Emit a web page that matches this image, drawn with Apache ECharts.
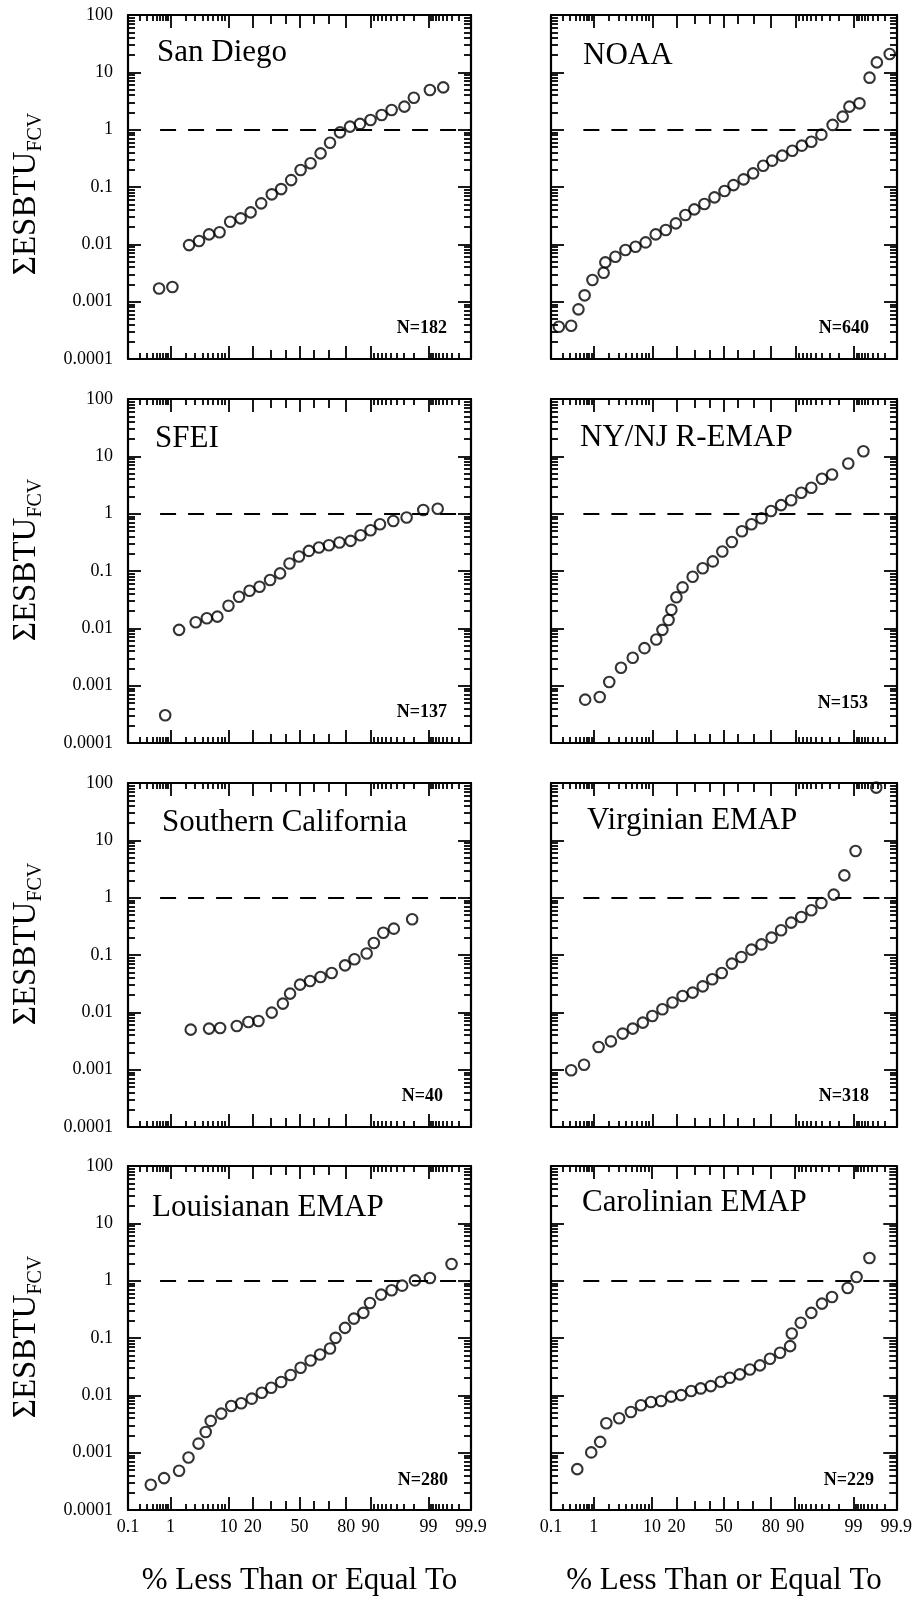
<!DOCTYPE html>
<html>
<head>
<meta charset="utf-8">
<script src="https://cdn.jsdelivr.net/npm/echarts@6/dist/echarts.min.js"></script>
<style>
html,body{margin:0;padding:0;background:#fff;}
#chart{width:915px;height:1600px;}
</style>
</head>
<body>
<div id="chart"></div>
<script>
// x values are normal scores (probit of the cumulative fraction "% Less Than or Equal To")
const sanDiegoScore = [-2.53,-2.29,-1.99,-1.81,-1.63,-1.44,-1.25,-1.06,-0.88,-0.69,-0.50,-0.33,-0.15,0.02,0.20,0.38,0.55,0.73,0.91,1.09,1.28,1.48,1.66,1.89,2.06,2.35,2.59];
const sanDiegoValue = [0.0017,0.0018,0.0097,0.0114,0.0149,0.0162,0.0248,0.0284,0.0361,0.0519,0.0745,0.092,0.132,0.198,0.259,0.386,0.593,0.897,1.13,1.26,1.47,1.80,2.20,2.52,3.61,4.92,5.47];

const noaaScore = [-2.95,-2.73,-2.60,-2.49,-2.35,-2.15,-2.12,-1.94,-1.76,-1.58,-1.40,-1.22,-1.04,-0.86,-0.69,-0.53,-0.35,-0.17,0.01,0.17,0.35,0.52,0.70,0.86,1.04,1.22,1.39,1.56,1.74,1.94,2.12,2.24,2.42,2.60,2.73,2.96];
const noaaValue = [0.000366,0.000381,0.000735,0.00129,0.00239,0.0032,0.00485,0.00608,0.00796,0.0091,0.0108,0.0149,0.0178,0.0232,0.0324,0.0407,0.0505,0.066,0.0851,0.108,0.136,0.173,0.235,0.288,0.352,0.43,0.526,0.617,0.818,1.21,1.69,2.52,2.88,8.07,14.9,20.9];

const sfeiScore = [-2.42,-2.17,-1.87,-1.67,-1.48,-1.28,-1.09,-0.90,-0.72,-0.53,-0.35,-0.18,-0.01,0.17,0.35,0.53,0.72,0.92,1.10,1.28,1.45,1.69,1.93,2.23,2.49];
const sfeiValue = [0.000304,0.0094,0.0128,0.015,0.016,0.0248,0.0356,0.0453,0.0531,0.0695,0.0908,0.1355,0.1795,0.224,0.257,0.282,0.314,0.335,0.421,0.514,0.653,0.746,0.855,1.16,1.22];

const nynjScore = [-2.48,-2.22,-2.05,-1.84,-1.63,-1.42,-1.21,-1.10,-0.99,-0.94,-0.85,-0.74,-0.56,-0.38,-0.20,-0.03,0.14,0.32,0.49,0.67,0.84,1.02,1.20,1.38,1.56,1.75,1.93,2.22,2.49];
const nynjValue = [0.00057,0.000635,0.00116,0.00205,0.00306,0.00451,0.00637,0.0094,0.014,0.0211,0.0348,0.0519,0.0793,0.112,0.147,0.219,0.321,0.493,0.653,0.83,1.11,1.41,1.71,2.32,2.84,4.06,4.83,7.5,12.3];

const soCalScore = [-1.96,-1.63,-1.43,-1.13,-0.92,-0.74,-0.50,-0.30,-0.17,0.01,0.19,0.38,0.58,0.82,0.99,1.21,1.34,1.51,1.70,2.03];
const soCalValue = [0.00499,0.0052,0.00533,0.00577,0.00678,0.00706,0.00989,0.0142,0.0212,0.0304,0.0352,0.0413,0.0485,0.066,0.0841,0.106,0.162,0.245,0.288,0.42];

const virginianScore = [-2.73,-2.50,-2.24,-2.02,-1.81,-1.63,-1.45,-1.28,-1.10,-0.92,-0.74,-0.56,-0.38,-0.21,-0.04,0.14,0.31,0.49,0.67,0.85,1.02,1.20,1.38,1.56,1.74,1.96,2.15,2.35,2.72];
const virginianValue = [0.000975,0.00122,0.00248,0.00312,0.00426,0.0052,0.00662,0.00863,0.0113,0.0148,0.0193,0.0221,0.0284,0.0377,0.0485,0.0708,0.0923,0.124,0.153,0.201,0.27,0.367,0.46,0.602,0.807,1.13,2.45,6.52,83.2];

const louisianScore = [-2.68,-2.44,-2.17,-2.00,-1.82,-1.69,-1.60,-1.41,-1.23,-1.05,-0.86,-0.68,-0.51,-0.33,-0.16,0.02,0.20,0.37,0.55,0.65,0.82,0.98,1.15,1.27,1.47,1.66,1.85,2.08,2.35,2.74];
const louisianValue = [0.000275,0.00036,0.000483,0.000824,0.00144,0.0023,0.00358,0.0048,0.00652,0.00726,0.00875,0.0111,0.0136,0.0171,0.0226,0.0303,0.0406,0.0516,0.0656,0.1007,0.150,0.218,0.274,0.409,0.571,0.679,0.818,1.01,1.11,1.95];

const carolinianScore = [-2.62,-2.37,-2.21,-2.10,-1.87,-1.66,-1.48,-1.30,-1.12,-0.94,-0.76,-0.58,-0.41,-0.23,-0.05,0.11,0.29,0.47,0.65,0.83,1.01,1.19,1.22,1.38,1.57,1.76,1.94,2.22,2.38,2.61];
const carolinianValue = [0.000516,0.00101,0.00154,0.00326,0.00398,0.00513,0.0067,0.00766,0.00796,0.00949,0.0101,0.0119,0.0132,0.0145,0.0173,0.0203,0.0232,0.0283,0.0333,0.0435,0.0552,0.0721,0.12,0.184,0.274,0.398,0.52,0.746,1.16,2.48];

const panelNames = ['San Diego','NOAA','SFEI','NY/NJ R-EMAP','Southern California','Virginian EMAP','Louisianan EMAP','Carolinian EMAP'];
const panelCounts = ['N=182','N=640','N=137','N=153','N=40','N=318','N=280','N=229'];
const panelScores = [sanDiegoScore,noaaScore,sfeiScore,nynjScore,soCalScore,virginianScore,louisianScore,carolinianScore];
const panelValues = [sanDiegoValue,noaaValue,sfeiValue,nynjValue,soCalValue,virginianValue,louisianValue,carolinianValue];

// tick labels
const xLabelPercents = [0.1,1,10,20,50,80,90,99,99.9];
const xMajorPercents = [1,10,20,50,80,90,99];
const xMediumPercents = [30,40,60,70];
const xShortPercents = [0.2,0.3,0.4,0.5,0.6,0.7,0.8,0.9,2,3,4,5,6,7,8,9,91,92,93,94,95,96,97,98,99.1,99.2,99.3,99.4,99.5,99.6,99.7,99.8];
const yLabelValues = [0.0001,0.001,0.01,0.1,1,10,100];
const yLabelTexts = ['0.0001','0.001','0.01','0.1','1','10','100'];
const refValue = 1;          // dashed reference line
const refStartPercent = 0.6;
const xLabelTitle = '% Less Than or Equal To';

// inverse normal CDF (Acklam)
function probit(p){
  const a=[-3.969683028665376e+01,2.209460984245205e+02,-2.759285104469687e+02,1.383577518672690e+02,-3.066479806614716e+01,2.506628277459239e+00];
  const b=[-5.447609879822406e+01,1.615858368580409e+02,-1.556989798598866e+02,6.680131188771972e+01,-1.328068155833036e+01];
  const c=[-7.784894002430293e-03,-3.223964580411365e-01,-2.400758277161838e+00,-2.549732539343734e+00,4.374664141464968e+00,2.938163982698783e+00];
  const d=[7.784695709041462e-03,3.224671290700398e-01,2.445134137142996e+00,3.754408661907416e+00];
  const plow=0.02425, phigh=1-plow; let q,r;
  if(p<plow){q=Math.sqrt(-2*Math.log(p));return (((((c[0]*q+c[1])*q+c[2])*q+c[3])*q+c[4])*q+c[5])/((((d[0]*q+d[1])*q+d[2])*q+d[3])*q+1);}
  if(p<=phigh){q=p-0.5;r=q*q;return (((((a[0]*r+a[1])*r+a[2])*r+a[3])*r+a[4])*r+a[5])*q/(((((b[0]*r+b[1])*r+b[2])*r+b[3])*r+b[4])*r+1);}
  q=Math.sqrt(-2*Math.log(1-p));return -(((((c[0]*q+c[1])*q+c[2])*q+c[3])*q+c[4])*q+c[5])/((((d[0]*q+d[1])*q+d[2])*q+d[3])*q+1);
}
const pz = pc => probit(pc/100);
const xLabelZ = xLabelPercents.map(pz);
const xMin = xLabelZ[0], xMax = xLabelZ[xLabelZ.length-1];
const xMajorZ = xMajorPercents.map(pz);
const xMediumZ = xMediumPercents.map(pz);
const xShortZ = xShortPercents.map(pz);
const yMinorValues = [];
for(let k=-4;k<=1;k++){for(let m=2;m<=9;m++){yMinorValues.push(Number((m*Math.pow(10,k)).toPrecision(3)));}}

// layout
const FONT = "'Liberation Serif','Times New Roman',serif";
const colLeft = [128, 551], colWidth = [343, 346];
const rowTop = [15, 399, 783, 1166], gridH = 344;
const titlePos = [[157,53],[583,56],[155,439],[580,438],[162,823],[587,821],[152,1208],[582,1203]];
const countPos = [[447,328],[869,328],[447,712],[868,703],[443,1096],[869,1096],[448,1480],[874,1480]];
const yTitleCenter = [[26,194],[26,560],[26,944],[26,1337]];

function fmtX(v){
  let best=0,bd=1e9;
  xLabelZ.forEach((z,i)=>{const dd=Math.abs(z-v); if(dd<bd){bd=dd;best=i;}});
  return String(xLabelPercents[best]);
}
function fmtY(v){
  let best=0,bd=1e9;
  yLabelValues.forEach((y,i)=>{const dd=Math.abs(Math.log10(y)-Math.log10(v)); if(dd<bd){bd=dd;best=i;}});
  return yLabelTexts[best];
}
function mkX(g,pos,ticks,len,line,labels){
  return {type:'value',gridIndex:g,position:pos,min:xMin,max:xMax,splitLine:{show:false},
    axisLine:{show:line,onZero:false,lineStyle:{color:'#000',width:2.2}},
    axisTick:{show:true,inside:true,length:len,customValues:ticks,lineStyle:{color:'#000',width:1.8}},
    axisLabel:labels?{show:true,customValues:xLabelZ,formatter:fmtX,color:'#000',fontSize:18,fontFamily:FONT,margin:8,showMinLabel:true,showMaxLabel:true}:{show:false}};
}
function mkY(g,pos,ticks,len,line,labels){
  return {type:'log',logBase:10,gridIndex:g,position:pos,min:0.0001,max:100,splitLine:{show:false},minorTick:{show:false},
    axisLine:{show:line,onZero:false,lineStyle:{color:'#000',width:2.2}},
    axisTick:{show:true,inside:true,length:len,customValues:ticks,lineStyle:{color:'#000',width:1.8}},
    axisLabel:labels?{show:true,customValues:yLabelValues,formatter:fmtY,color:'#000',fontSize:18,fontFamily:FONT,margin:15}:{show:false}};
}

const grids=[],xAxes=[],yAxes=[],series=[],graphics=[];
panelNames.forEach((name,i)=>{
  const col=i%2,row=Math.floor(i/2);
  grids.push({left:colLeft[col],top:rowTop[row],width:colWidth[col],height:gridH});
  const xb=xAxes.length,yb=yAxes.length;
  xAxes.push(mkX(i,'bottom',xMajorZ,13,true,row===3));
  xAxes.push(mkX(i,'bottom',xMediumZ,9,false,false));
  xAxes.push(mkX(i,'bottom',xShortZ,6,false,false));
  xAxes.push(mkX(i,'top',xMajorZ,13,true,false));
  xAxes.push(mkX(i,'top',xMediumZ,9,false,false));
  xAxes.push(mkX(i,'top',xShortZ,6,false,false));
  yAxes.push(mkY(i,'left',yLabelValues,13,true,col===0));
  yAxes.push(mkY(i,'left',yMinorValues,7,false,false));
  yAxes.push(mkY(i,'right',yLabelValues,13,true,false));
  yAxes.push(mkY(i,'right',yMinorValues,7,false,false));
  series.push({type:'scatter',name:name,xAxisIndex:xb,yAxisIndex:yb,clip:false,
    data:panelScores[i].map((z,k)=>[z,panelValues[i][k]]),
    symbol:'circle',symbolSize:10.5,
    itemStyle:{color:'rgba(255,255,255,0)',borderColor:'#000',borderWidth:2.1},
    emphasis:{disabled:true},
    markLine:{silent:true,symbol:'none',label:{show:false},animation:false,
      lineStyle:{color:'#000',width:2.2,type:[16,12]},
      data:[[{coord:[pz(refStartPercent),refValue]},{coord:[xMax,refValue]}]]}
  });
  graphics.push({type:'text',x:titlePos[i][0],y:titlePos[i][1],
    style:{text:name,fill:'#000',fontSize:31,fontFamily:FONT,align:'left',verticalAlign:'middle'}});
  graphics.push({type:'text',x:countPos[i][0],y:countPos[i][1],
    style:{text:panelCounts[i],fill:'#000',fontSize:18,fontWeight:'bold',fontFamily:FONT,align:'right',verticalAlign:'middle'}});
});
yTitleCenter.forEach(p=>{
  graphics.push({type:'text',x:p[0],y:p[1],rotation:Math.PI/2,
    style:{text:'{m|ΣESBTU}{s|FCV}',fill:'#000',align:'center',verticalAlign:'middle',
      rich:{m:{fontSize:33,fontFamily:FONT,lineHeight:40,fill:'#000'},
            s:{fontSize:20,fontFamily:FONT,lineHeight:18,verticalAlign:'bottom',fill:'#000'}}}});
});
[0,1].forEach(col=>{
  graphics.push({type:'text',x:colLeft[col]+colWidth[col]/2,y:1581,
    style:{text:xLabelTitle,fill:'#000',fontSize:31,fontFamily:FONT,align:'center',verticalAlign:'middle'}});
});

const chart=echarts.init(document.getElementById('chart'),null,{renderer:'canvas'});
chart.setOption({animation:false,backgroundColor:'#fff',grid:grids,xAxis:xAxes,yAxis:yAxes,series:series,graphic:graphics});
</script>
</body>
</html>
